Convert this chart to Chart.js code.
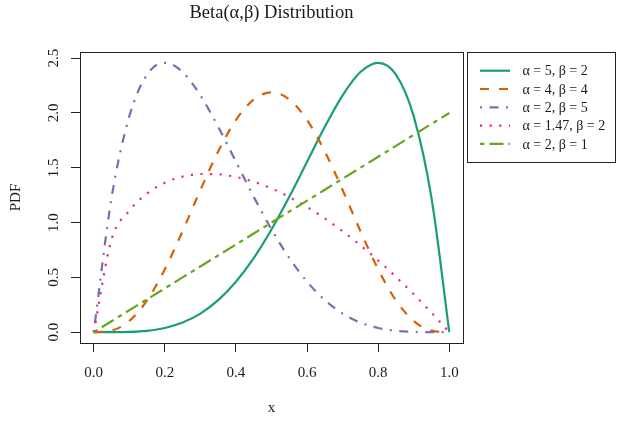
<!DOCTYPE html>
<html>
<head>
<meta charset="utf-8">
<title>Beta distribution</title>
<script src="https://cdn.jsdelivr.net/npm/chart.js@4.4.1/dist/chart.umd.min.js"></script>
<style>
	html, body { margin: 0; padding: 0; background: #fff; }
	#wrap { width: 618px; height: 421px; }
</style>
</head>
<body>
<div id="wrap"><canvas id="chart" width="618" height="421"></canvas></div>
<script>
// x grid and the density values
const xs = [0, 0.05, 0.1, 0.15, 0.2, 0.25, 0.3, 0.35, 0.4, 0.45, 0.5,
	0.55, 0.6, 0.65, 0.7, 0.75, 0.8, 0.85, 0.9, 0.95, 1];

const beta52 = [0, 0.0002, 0.0027, 0.0129, 0.0384, 0.0879, 0.1701, 0.2926, 0.4608, 0.6766, 0.9375,
	1.2353, 1.5552, 1.8743, 2.1609, 2.3730, 2.4576, 2.3490, 1.9683, 1.2218, 0];
const beta44 = [0, 0.0150, 0.1021, 0.2902, 0.5734, 0.9229, 1.2965, 1.6485, 1.9354, 2.1225, 2.1875,
	2.1225, 1.9354, 1.6485, 1.2965, 0.9229, 0.5734, 0.2902, 0.1021, 0.0150, 0];
const beta25 = [0, 1.2218, 1.9683, 2.3490, 2.4576, 2.3730, 2.1609, 1.8743, 1.5552, 1.2353, 0.9375,
	0.6766, 0.4608, 0.2926, 0.1701, 0.0879, 0.0384, 0.0129, 0.0027, 0.0002, 0];
const beta147 = [0, 0.8437, 1.1075, 1.2654, 1.3632, 1.4193, 1.4431, 1.4409, 1.4163, 1.3721, 1.3106,
	1.2336, 1.1424, 1.0379, 0.9212, 0.7929, 0.6538, 0.5046, 0.3456, 0.1772, 0];
const beta21 = [0, 0.1, 0.2, 0.3, 0.4, 0.5, 0.6, 0.7, 0.8, 0.9, 1.0,
	1.1, 1.2, 1.3, 1.4, 1.5, 1.6, 1.7, 1.8, 1.9, 2.0];

const seriesLabels = ['α = 5, β = 2', 'α = 4, β = 4', 'α = 2, β = 5', 'α = 1.47, β = 2', 'α = 2, β = 1'];
const xTicks = [0, 0.2, 0.4, 0.6, 0.8, 1.0];
const yTicks = [0, 0.5, 1.0, 1.5, 2.0, 2.5];

const FONT = "'Liberation Serif', 'DejaVu Serif', serif";
const INK = '#1a1a1a';

function toPoints(ys) {
	return xs.map((x, i) => ({ x: x, y: ys[i] }));
}

function lineDs(label, ys, color, dash, order) {
	return {
		label: label,
		data: toPoints(ys),
		borderColor: color,
		backgroundColor: color,
		borderWidth: 2.2,
		borderDash: dash,
		borderCapStyle: 'butt',
		pointRadius: 0,
		fill: false,
		cubicInterpolationMode: 'monotone',
		order: order
	};
}

// y tick labels are rotated like R's las = 0
const yLabels = {
	id: 'yLabels',
	afterDraw(chart) {
		const ctx = chart.ctx;
		const sc = chart.scales.y;
		ctx.save();
		ctx.font = '15px ' + FONT;
		ctx.fillStyle = INK;
		ctx.textAlign = 'center';
		ctx.textBaseline = 'alphabetic';
		yTicks.forEach(v => {
			const py = sc.getPixelForValue(v);
			ctx.save();
			ctx.translate(sc.right - 22, py);
			ctx.rotate(-Math.PI / 2);
			ctx.fillText(v.toFixed(1), 0, 0);
			ctx.restore();
		});
		ctx.restore();
	}
};

// plot box drawn over the curves
const frame = {
	id: 'frame',
	afterDatasetsDraw(chart) {
		const a = chart.chartArea;
		const ctx = chart.ctx;
		ctx.save();
		ctx.strokeStyle = '#222';
		ctx.lineWidth = 1;
		ctx.strokeRect(Math.round(a.left) + 0.5, Math.round(a.top) + 0.5,
			Math.round(a.right - a.left), Math.round(a.bottom - a.top));
		ctx.restore();
	}
};

// boxed legend sitting to the right of the plot
const legendBox = {
	id: 'legendBox',
	afterDraw(chart) {
		const a = chart.chartArea;
		const ctx = chart.ctx;
		const left = Math.round(a.right) + 4;
		const top = Math.round(a.top);
		ctx.save();
		ctx.strokeStyle = '#222';
		ctx.lineWidth = 1;
		ctx.strokeRect(left + 0.5, top + 0.5, 148, 110);
		ctx.font = '14px ' + FONT;
		ctx.textBaseline = 'middle';
		ctx.textAlign = 'left';
		chart.data.datasets.forEach((ds, i) => {
			const y = top + 18.7 + i * 18.3;
			ctx.beginPath();
			ctx.setLineDash(ds.borderDash || []);
			ctx.lineCap = 'butt';
			ctx.strokeStyle = ds.borderColor;
			ctx.lineWidth = ds.borderWidth;
			ctx.moveTo(left + 13, y);
			ctx.lineTo(left + 43, y);
			ctx.stroke();
			ctx.setLineDash([]);
			ctx.fillStyle = INK;
			ctx.fillText(ds.label, left + 55.5, y + 1);
		});
		ctx.restore();
	}
};

new Chart(document.getElementById('chart'), {
	type: 'line',
	data: {
		datasets: [
			lineDs(seriesLabels[0], beta52, '#1B9E77', [], 5),
			lineDs(seriesLabels[1], beta44, '#D95F02', [9, 10], 4),
			lineDs(seriesLabels[2], beta25, '#7570B3', [2, 7.5, 9, 7.5], 3),
			lineDs(seriesLabels[3], beta147, '#E7298A', [2.2, 7.4], 2),
			lineDs(seriesLabels[4], beta21, '#66A61E', [4.5, 5, 14, 5], 1)
		]
	},
	options: {
		responsive: false,
		animation: false,
		layout: { padding: { top: 0, right: 155, bottom: 0, left: 0 } },
		plugins: {
			legend: { display: false },
			tooltip: { enabled: false },
			title: {
				display: true,
				text: 'Beta(α,β) Distribution',
				fullSize: false,
				color: INK,
				font: { family: FONT, size: 18.5, weight: 'normal' },
				padding: { top: 2.4, bottom: 27.4 }
			}
		},
		scales: {
			x: {
				type: 'linear',
				min: -0.0385,
				max: 1.0385,
				afterBuildTicks: sc => { sc.ticks = xTicks.map(v => ({ value: v })); },
				afterFit: sc => { sc.height = 78; },
				border: { display: false },
				grid: { drawOnChartArea: false, drawTicks: true, tickLength: 9, color: '#222', tickWidth: 1 },
				ticks: {
					color: INK,
					font: { family: FONT, size: 15 },
					padding: 12,
					maxRotation: 0,
					callback: v => Number(v).toFixed(1)
				},
				title: {
					display: true,
					text: 'x',
					color: INK,
					font: { family: FONT, size: 15 },
					padding: { top: 0, bottom: 3.5 }
				}
			},
			y: {
				type: 'linear',
				min: -0.0983,
				max: 2.5559,
				afterBuildTicks: sc => { sc.ticks = yTicks.map(v => ({ value: v })); },
				afterFit: sc => { sc.width = 80; },
				border: { display: false },
				grid: { drawOnChartArea: false, drawTicks: true, tickLength: 9, color: '#222', tickWidth: 1 },
				ticks: { display: false },
				title: {
					display: true,
					text: 'PDF',
					color: INK,
					font: { family: FONT, size: 15 },
					padding: { top: 7, bottom: 0 }
				}
			}
		}
	},
	plugins: [frame, yLabels, legendBox]
});
</script>
</body>
</html>
